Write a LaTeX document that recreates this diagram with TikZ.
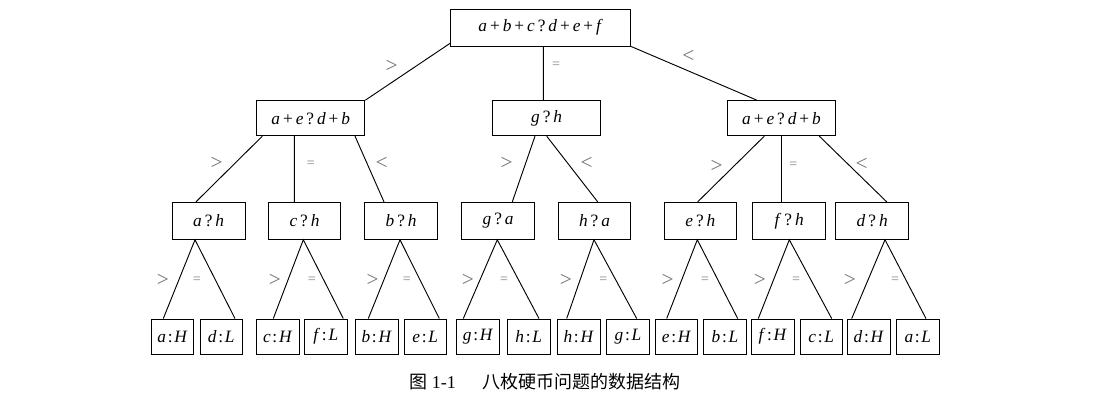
\documentclass[tikz,border=0pt]{standalone}
\usepackage{fontspec}
\setmainfont{Liberation Serif}
\newfontfamily\cjk{Noto Sans CJK SC}
\usetikzlibrary{calc}
\newcommand{\iv}[1]{\textit{#1}}
\newcommand{\op}[1]{\hspace{0.17em}#1\hspace{0.17em}}
\newcommand{\cl}{\hspace{0.1em}:\hspace{0.1em}}
\begin{document}
\begin{tikzpicture}[x=0.75pt,y=-0.75pt,
  box/.style={draw, line width=0.7pt, inner sep=0pt, font=\fontsize{13}{15}\selectfont},
  rootbox/.style={box, minimum width=135pt, minimum height=27.5pt},
  midbox/.style={box, minimum width=81pt, minimum height=26.25pt},
  qbox/.style={box, minimum width=54.4pt, minimum height=27.75pt},
  leaf/.style={box, minimum width=32pt, minimum height=26.25pt},
  edge/.style={line width=0.7pt},
  lbl/.style={text=black!55, inner sep=0pt, font=\fontsize{16}{17}\selectfont},
  eq/.style={text=black!50, inner sep=0pt, font=\fontsize{10.5}{11}\selectfont}]
\useasboundingbox (0,0) rectangle (1093,408);

% root
\node[rootbox] (root) at (540.7,27.7) {\iv{a}\op{+}\iv{b}\op{+}\iv{c}\op{?}\iv{d}\op{+}\iv{e}\op{+}\iv{f}};
% level 1
\node[midbox] (L) at (310.8,118.2) {\iv{a}\op{+}\iv{e}\op{?}\iv{d}\op{+}\iv{b}};
\node[midbox] (M) at (546.7,118.2) {\iv{g}\op{?}\iv{h}};
\node[midbox] (R) at (781.5,118.2) {\iv{a}\op{+}\iv{e}\op{?}\iv{d}\op{+}\iv{b}};
% level 2
\node[qbox] (ah) at (208.7,220.8) {\iv{a}\op{?}\iv{h}};
\node[qbox] (ch) at (304.5,220.8) {\iv{c}\op{?}\iv{h}};
\node[qbox] (bh) at (401.2,220.8) {\iv{b}\op{?}\iv{h}};
\node[qbox] (ga) at (498.2,220.8) {\iv{g}\op{?}\iv{a}};
\node[qbox] (ha) at (594.5,220.8) {\iv{h}\op{?}\iv{a}};
\node[qbox] (eh) at (700.4,220.8) {\iv{e}\op{?}\iv{h}};
\node[qbox] (fh) at (789.2,220.8) {\iv{f}\op{?}\iv{h}};
\node[qbox] (dh) at (872.2,220.8) {\iv{d}\op{?}\iv{h}};
% leaves
\node[leaf] (aH) at (172.5,336.5) {\iv{a}\cl\iv{H}};
\node[leaf] (dL) at (221.3,336.5) {\iv{d}\cl\iv{L}};
\node[leaf] (cH) at (277.7,336.5) {\iv{c}\cl\iv{H}};
\node[leaf] (fL) at (325.8,336.5) {\iv{f}\cl\iv{L}};
\node[leaf] (bH) at (376.7,336.5) {\iv{b}\cl\iv{H}};
\node[leaf] (eL) at (425.3,336.5) {\iv{e}\cl\iv{L}};
\node[leaf] (gH) at (478.0,336.5) {\iv{g}\cl\iv{H}};
\node[leaf] (hL) at (528.7,336.5) {\iv{h}\cl\iv{L}};
\node[leaf] (hH) at (578.7,336.5) {\iv{h}\cl\iv{H}};
\node[leaf] (gL) at (628.0,336.5) {\iv{g}\cl\iv{L}};
\node[leaf] (eH) at (676.5,336.5) {\iv{e}\cl\iv{H}};
\node[leaf] (bL) at (725.0,336.5) {\iv{b}\cl\iv{L}};
\node[leaf] (fH) at (772.8,336.5) {\iv{f}\cl\iv{H}};
\node[leaf] (cL) at (821.3,336.5) {\iv{c}\cl\iv{L}};
\node[leaf] (dH) at (868.8,336.5) {\iv{d}\cl\iv{H}};
\node[leaf] (aL) at (917.8,336.5) {\iv{a}\cl\iv{L}};

% root edges
\draw[edge] ($(root.south west)+(0,-3.3)$) -- (L.north east);
\draw[edge] ($(root.south)+(2.6,0)$) -- ($(M.north)+(-3.4,0)$);
\draw[edge] (root.south east) -- ($(R.north)+(-24.5,0)$);
\node[lbl] (l1) at (391.7,66.7) {>};
\node[eq] (l2) at (556,65) {=};
\node[lbl] (l3) at (688.3,56.7) {<};

% level 1 edges
\draw[edge] ($(L.south west)+(6,0)$) -- ($(ah.north)+(-12.7,0)$);
\draw[edge] ($(L.south)+(-16.5,0)$) -- ($(ch.north)+(-10.2,0)$);
\draw[edge] ($(L.south)+(44.2,0)$) -- ($(bh.north)+(-17.2,0)$);
\node[lbl] (l4) at (216.7,163.3) {>};
\node[eq] (l5) at (310.7,164.3) {=};
\node[lbl] (l6) at (381.7,163.3) {<};

\draw[edge] ($(M.south)+(-11.7,0)$) -- ($(ga.north)+(14.1,0)$);
\draw[edge] (M.south) -- ($(ha.north)+(3.2,0)$);
\node[lbl] (l7) at (506.7,163.3) {>};
\node[lbl] (l8) at (586.7,163.3) {<};

\draw[edge] ($(R.south)+(-17.2,0)$) -- ($(eh.north)+(-2.7,0)$);
\draw[edge] ($(R.south)+(0.2,0)$) -- ($(fh.north)+(-7.5,0)$);
\draw[edge] ($(R.south)+(37.8,0)$) -- ($(dh.north)+(14.5,0)$);
\node[lbl] (l9) at (716.7,166.7) {>};
\node[eq] (l10) at (793.3,165) {=};
\node[lbl] (l11) at (861.7,164.3) {<};

% level 2 edges
\draw[edge] ($(aH.north)+(-9.2,0)$) -- ($(ah.south)+(-13.7,0)$) -- ($(dL.north)+(13.7,0)$);
\draw[edge] ($(cH.north)+(-4.4,0)$) -- ($(ch.south)+(-1.2,0)$) -- ($(fL.north)+(17.5,0)$);
\draw[edge] ($(bH.north)+(-8.4,0)$) -- ($(bh.south)+(-1.2,0)$) -- ($(eL.north)+(14,0)$);
\draw[edge] ($(gH.north)+(-14.7,0)$) -- ($(ga.south)+(-0.9,0)$) -- ($(hL.north)+(10.3,0)$);
\draw[edge] ($(hH.north)+(-12,0)$) -- ($(ha.south)+(-0.5,0)$) -- ($(gL.north)+(8.7,0)$);
\draw[edge] ($(eH.north)+(-9.8,0)$) -- ($(eh.south)+(-3.1,0)$) -- ($(bL.north)+(12.7,0)$);
\draw[edge] ($(fH.north)+(-14.5,0)$) -- ($(fh.south)+(0.1,0)$) -- ($(cL.north)+(10.4,0)$);
\draw[edge] ($(dH.north)+(-17.1,0)$) -- ($(dh.south)+(12.8,0)$) -- ($(aL.north)+(8.2,0)$);

\foreach \x [count=\i] in {163,275,372.7,468,566,667.7,760,850}
  \node[lbl] (g\i) at (\x,280) {>};
\foreach \x [count=\i] in {196.7,311.7,406.7,504,603.3,705,796,895}
  \node[eq] (e\i) at (\x,280) {=};

% caption
\node[inner sep=0pt, font=\fontsize{13.5}{15}\selectfont] (cap) at (545,382)
  {{\cjk 图}\hspace{0.25em}1-1\hspace{1.5em}{\cjk 八枚硬币问题的数据结构}};
\end{tikzpicture}
\end{document}
